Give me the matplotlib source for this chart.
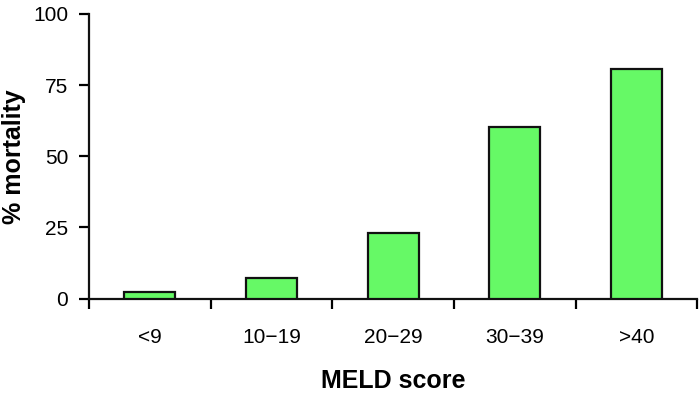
import matplotlib
matplotlib.use("Agg")
import matplotlib.pyplot as plt
import numpy as np

plt.rcParams["font.family"] = ["Liberation Sans", "DejaVu Sans"]

categories = ["<9", "10\u221219", "20\u221229", "30\u221239", ">40"]
mortality = [2.4, 7.3, 23.0, 60.2, 80.6]

fig = plt.figure(figsize=(7, 3.95), dpi=100)
ax = fig.add_axes([0.127, 0.2443, 0.869, 0.7203])

x = np.arange(len(categories))
ax.bar(x, mortality, width=0.42, color="#66f966", edgecolor="#111111", linewidth=1.6, zorder=3)

ax.set_xlim(-0.5, len(categories) - 0.5)
ax.set_ylim(0, 100)
ax.set_yticks([0, 25, 50, 75, 100])

# boundary ticks without labels, labels centred on bars
ax.set_xticks(np.arange(len(categories) + 1) - 0.5)
ax.set_xticklabels([])
ax.set_xticks(x, minor=True)
ax.set_xticklabels(categories, minor=True)
ax.tick_params(axis="x", which="major", length=7, width=1.6, direction="out")
ax.tick_params(axis="x", which="minor", length=0, pad=21, labelsize=15)
ax.tick_params(axis="y", length=7, width=1.6, direction="out", pad=8, labelsize=15)

for side in ["top", "right"]:
    ax.spines[side].set_visible(False)
for side in ["left", "bottom"]:
    ax.spines[side].set_linewidth(1.6)
    ax.spines[side].set_color("#111111")

ax.set_xlabel("MELD score", fontsize=18, fontweight="bold", labelpad=16)
ax.set_ylabel("% mortality", fontsize=18, fontweight="bold")
ax.yaxis.set_label_coords(-0.104, 0.5)

fig.savefig("out.png", dpi=100)
